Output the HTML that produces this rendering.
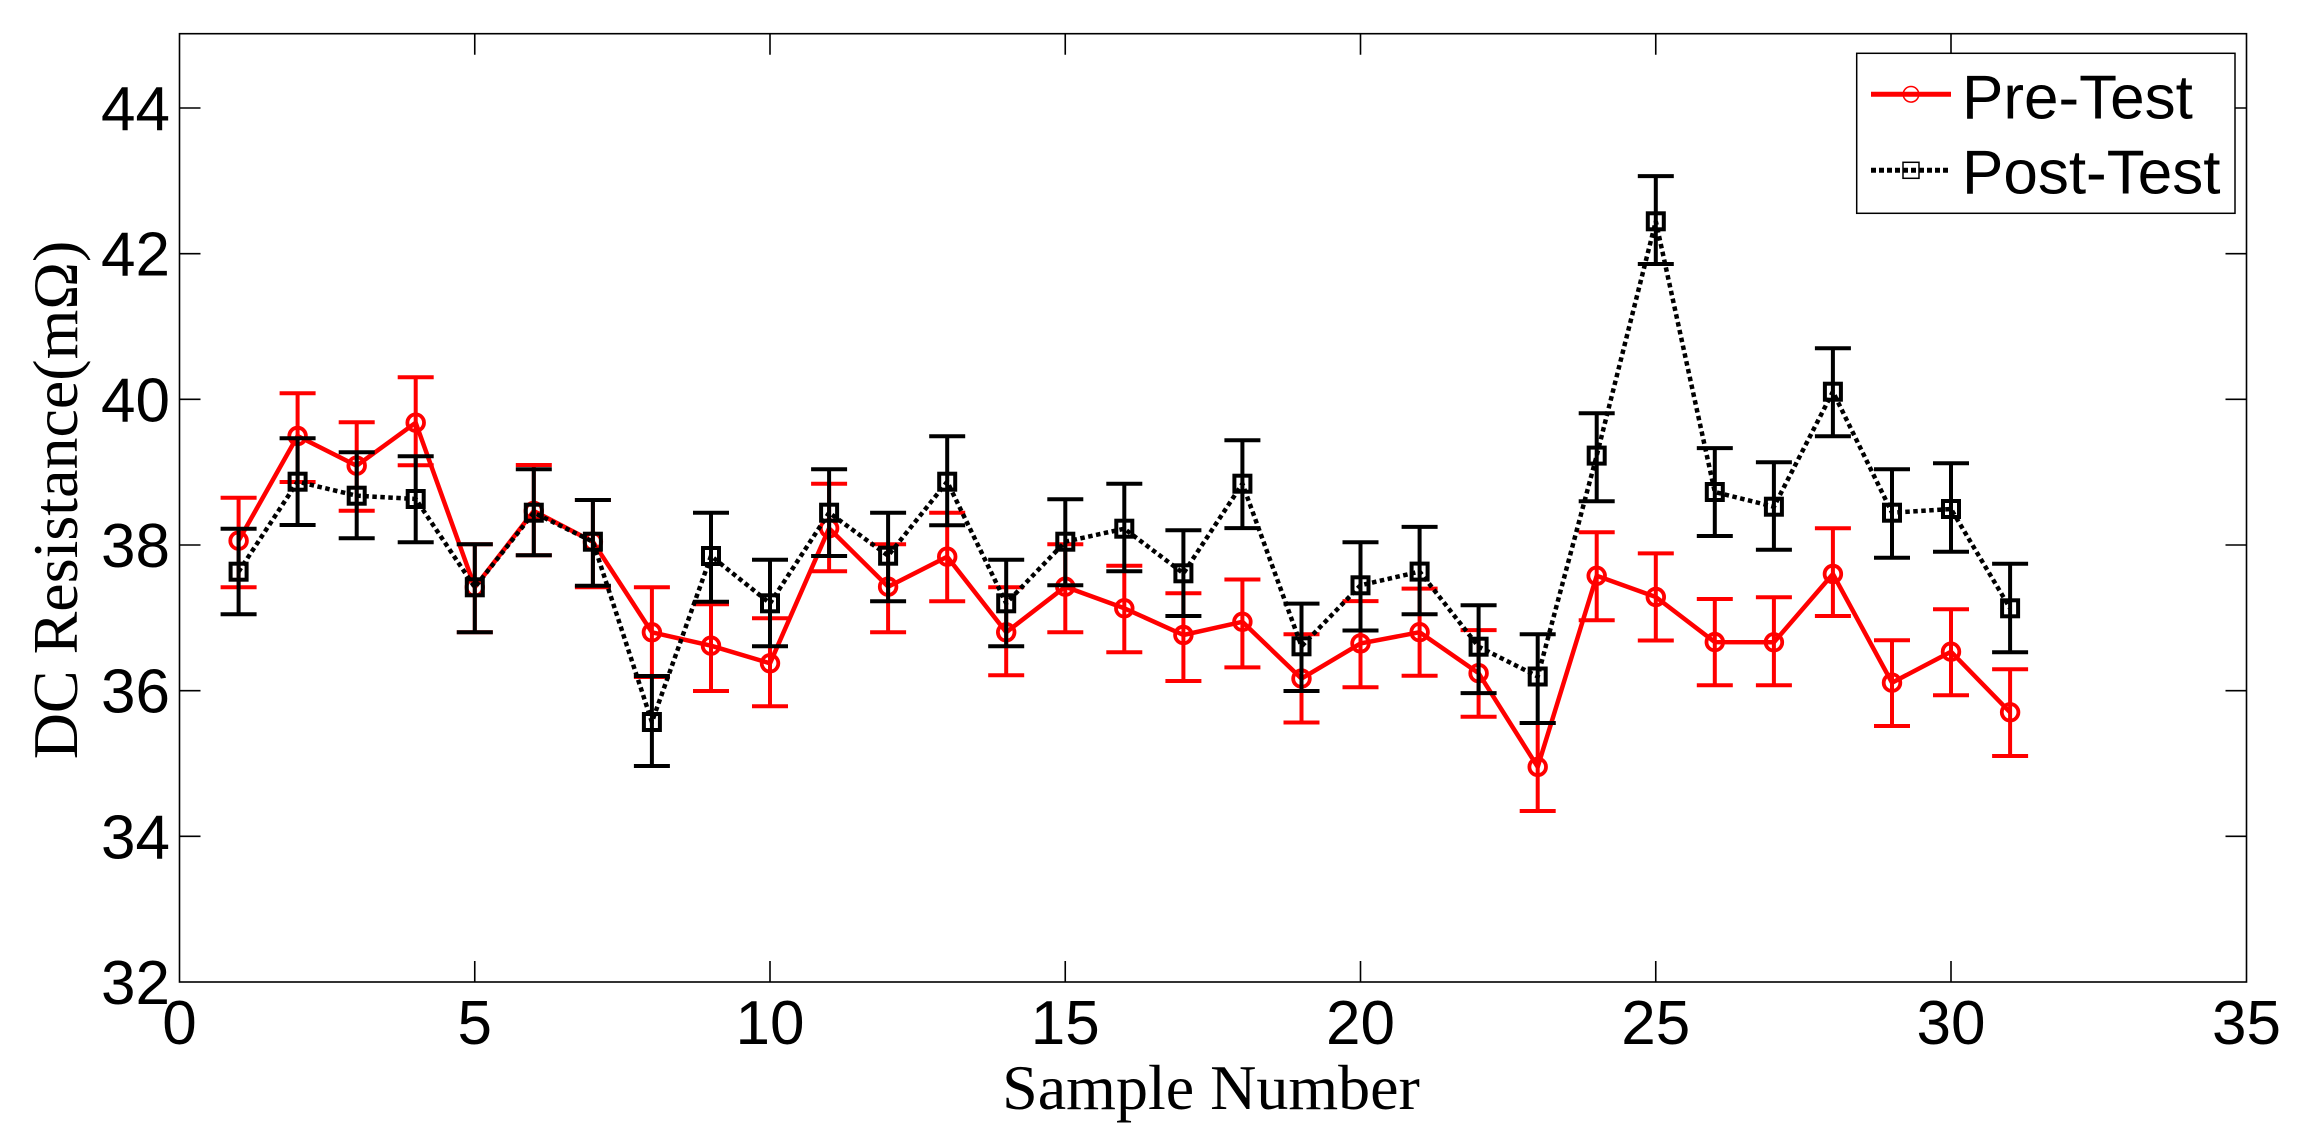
<!DOCTYPE html>
<html>
<head>
<meta charset="utf-8">
<style>
html,body{margin:0;padding:0;background:#fff;}
svg{display:block;}
text{font-family:"Liberation Sans",Arial,sans-serif;}
.serif{font-family:"Liberation Serif","Times New Roman",serif;}
</style>
</head>
<body>
<svg width="2302" height="1147" viewBox="0 0 2302 1147" xmlns="http://www.w3.org/2000/svg">
<rect x="0" y="0" width="2302" height="1147" fill="#fff"/>

<!-- Pre-Test error bars -->
<path fill="none" stroke="#ff0000" stroke-width="4" d="M238.6 497.7V587.3M220.6 497.7h36M220.6 587.3h36
M297.6 393.3V482M279.6 393.3h36M279.6 482h36
M356.7 422.3V510.7M338.7 422.3h36M338.7 510.7h36
M415.7 377.3V465.3M397.7 377.3h36M397.7 465.3h36
M474.8 544.3V632.3M456.8 544.3h36M456.8 632.3h36
M533.8 465V555.3M515.8 465h36M515.8 555.3h36
M592.9 500V587.3M574.9 500h36M574.9 587.3h36
M651.9 587.3V677M633.9 587.3h36M633.9 677h36
M711 604.3V691M693 604.3h36M693 691h36
M770 618.3V706.3M752 618.3h36M752 706.3h36
M829.1 483.7V571.3M811.1 483.7h36M811.1 571.3h36
M888.1 544.3V632.3M870.1 544.3h36M870.1 632.3h36
M947.2 512.7V601.3M929.2 512.7h36M929.2 601.3h36
M1006.2 587.3V675.3M988.2 587.3h36M988.2 675.3h36
M1065.3 544.3V632.3M1047.3 544.3h36M1047.3 632.3h36
M1124.3 565.7V652.3M1106.3 565.7h36M1106.3 652.3h36
M1183.4 593.3V681M1165.4 593.3h36M1165.4 681h36
M1242.4 579.5V667.4M1224.4 579.5h36M1224.4 667.4h36
M1301.5 634.2V722.5M1283.5 634.2h36M1283.5 722.5h36
M1360.5 601.1V687.3M1342.5 601.1h36M1342.5 687.3h36
M1419.6 588.6V675.7M1401.6 588.6h36M1401.6 675.7h36
M1478.6 630.1V716.7M1460.6 630.1h36M1460.6 716.7h36
M1537.7 723V811M1519.7 723h36M1519.7 811h36
M1596.7 532.3V620.2M1578.7 532.3h36M1578.7 620.2h36
M1655.8 553.4V640.5M1637.8 553.4h36M1637.8 640.5h36
M1714.8 599V685.2M1696.8 599h36M1696.8 685.2h36
M1773.9 597.3V685.3M1755.9 597.3h36M1755.9 685.3h36
M1832.9 528.3V616M1814.9 528.3h36M1814.9 616h36
M1892 640.3V726M1874 640.3h36M1874 726h36
M1951 609.3V695.3M1933 609.3h36M1933 695.3h36
M2010.1 669.3V756M1992.1 669.3h36M1992.1 756h36"/>

<!-- Pre-Test line -->
<polyline fill="none" stroke="#ff0000" stroke-width="4.5" stroke-linejoin="round" points="238.6,540.7 297.6,436 356.7,465.7 415.7,422.7 474.8,587.3 533.8,511 592.9,541.7 651.9,632.3 711,645.7 770,663.3 829.1,528.3 888.1,586.7 947.2,556.7 1006.2,632.3 1065.3,586.7 1124.3,608.3 1183.4,635 1242.4,621.8 1301.5,678.6 1360.5,643.4 1419.6,632.2 1478.6,673.2 1537.7,766.9 1596.7,575.8 1655.8,597 1714.8,642.1 1773.9,642.3 1832.9,574 1892,682.7 1951,651.7 2010.1,712.3"/>

<!-- Pre-Test markers -->
<g fill="none" stroke="#ff0000" stroke-width="3.8">
<circle cx="238.6" cy="540.7" r="8.3"/><circle cx="297.6" cy="436" r="8.3"/><circle cx="356.7" cy="465.7" r="8.3"/><circle cx="415.7" cy="422.7" r="8.3"/><circle cx="474.8" cy="587.3" r="8.3"/><circle cx="533.8" cy="511" r="8.3"/><circle cx="592.9" cy="541.7" r="8.3"/><circle cx="651.9" cy="632.3" r="8.3"/><circle cx="711" cy="645.7" r="8.3"/><circle cx="770" cy="663.3" r="8.3"/><circle cx="829.1" cy="528.3" r="8.3"/><circle cx="888.1" cy="586.7" r="8.3"/><circle cx="947.2" cy="556.7" r="8.3"/><circle cx="1006.2" cy="632.3" r="8.3"/><circle cx="1065.3" cy="586.7" r="8.3"/><circle cx="1124.3" cy="608.3" r="8.3"/><circle cx="1183.4" cy="635" r="8.3"/><circle cx="1242.4" cy="621.8" r="8.3"/><circle cx="1301.5" cy="678.6" r="8.3"/><circle cx="1360.5" cy="643.4" r="8.3"/><circle cx="1419.6" cy="632.2" r="8.3"/><circle cx="1478.6" cy="673.2" r="8.3"/><circle cx="1537.7" cy="766.9" r="8.3"/><circle cx="1596.7" cy="575.8" r="8.3"/><circle cx="1655.8" cy="597" r="8.3"/><circle cx="1714.8" cy="642.1" r="8.3"/><circle cx="1773.9" cy="642.3" r="8.3"/><circle cx="1832.9" cy="574" r="8.3"/><circle cx="1892" cy="682.7" r="8.3"/><circle cx="1951" cy="651.7" r="8.3"/><circle cx="2010.1" cy="712.3" r="8.3"/>
</g>

<!-- Post-Test error bars -->
<path fill="none" stroke="#000" stroke-width="4" d="M238.6 528.7V614.3M220.6 528.7h36M220.6 614.3h36
M297.6 438.3V525M279.6 438.3h36M279.6 525h36
M356.7 452.3V538.3M338.7 452.3h36M338.7 538.3h36
M415.7 456.3V542.3M397.7 456.3h36M397.7 542.3h36
M474.8 544.3V632.3M456.8 544.3h36M456.8 632.3h36
M533.8 469.3V555.3M515.8 469.3h36M515.8 555.3h36
M592.9 500V585.7M574.9 500h36M574.9 585.7h36
M651.9 676V766M633.9 676h36M633.9 766h36
M711 512.7V601.7M693 512.7h36M693 601.7h36
M770 559.7V646.3M752 559.7h36M752 646.3h36
M829.1 469.3V556M811.1 469.3h36M811.1 556h36
M888.1 512.7V601.3M870.1 512.7h36M870.1 601.3h36
M947.2 436.3V525.3M929.2 436.3h36M929.2 525.3h36
M1006.2 559.7V646.3M988.2 559.7h36M988.2 646.3h36
M1065.3 499.3V585.3M1047.3 499.3h36M1047.3 585.3h36
M1124.3 483.7V571.3M1106.3 483.7h36M1106.3 571.3h36
M1183.4 530.3V616M1165.4 530.3h36M1165.4 616h36
M1242.4 440.2V528.1M1224.4 440.2h36M1224.4 528.1h36
M1301.5 603.6V691M1283.5 603.6h36M1283.5 691h36
M1360.5 542.2V630.5M1342.5 542.2h36M1342.5 630.5h36
M1419.6 526.9V614.3M1401.6 526.9h36M1401.6 614.3h36
M1478.6 605.2V693.1M1460.6 605.2h36M1460.6 693.1h36
M1537.7 634.2V723M1519.7 634.2h36M1519.7 723h36
M1596.7 413.3V501.2M1578.7 413.3h36M1578.7 501.2h36
M1655.8 176.1V264M1637.8 176.1h36M1637.8 264h36
M1714.8 448.1V536M1696.8 448.1h36M1696.8 536h36
M1773.9 462.3V549.7M1755.9 462.3h36M1755.9 549.7h36
M1832.9 348.3V436.3M1814.9 348.3h36M1814.9 436.3h36
M1892 469.3V557.7M1874 469.3h36M1874 557.7h36
M1951 463.3V551.7M1933 463.3h36M1933 551.7h36
M2010.1 563.7V652.3M1992.1 563.7h36M1992.1 652.3h36"/>

<!-- Post-Test dotted line -->
<polyline fill="none" stroke="#000" stroke-width="4.5" stroke-dasharray="4.5 3.5" points="238.6,571.7 297.6,481.7 356.7,495.7 415.7,499 474.8,587.3 533.8,512.7 592.9,541.7 651.9,722 711,556 770,603.3 829.1,512.7 888.1,555.7 947.2,481.7 1006.2,603.3 1065.3,541.7 1124.3,528.7 1183.4,573.3 1242.4,483.7 1301.5,646.3 1360.5,585.3 1419.6,571.6 1478.6,646.7 1537.7,676.5 1596.7,455.6 1655.8,221.3 1714.8,492 1773.9,506.7 1832.9,391.7 1892,512.7 1951,509 2010.1,608.3"/>

<!-- Post-Test markers -->
<g fill="none" stroke="#000" stroke-width="4">
<rect x="230.6" y="563.7" width="16" height="16"/><rect x="289.6" y="473.7" width="16" height="16"/><rect x="348.7" y="487.7" width="16" height="16"/><rect x="407.7" y="491" width="16" height="16"/><rect x="466.8" y="579.3" width="16" height="16"/><rect x="525.8" y="504.7" width="16" height="16"/><rect x="584.9" y="533.7" width="16" height="16"/><rect x="643.9" y="714" width="16" height="16"/><rect x="703" y="548" width="16" height="16"/><rect x="762" y="595.3" width="16" height="16"/><rect x="821.1" y="504.7" width="16" height="16"/><rect x="880.1" y="547.7" width="16" height="16"/><rect x="939.2" y="473.7" width="16" height="16"/><rect x="998.2" y="595.3" width="16" height="16"/><rect x="1057.3" y="533.7" width="16" height="16"/><rect x="1116.3" y="520.7" width="16" height="16"/><rect x="1175.4" y="565.3" width="16" height="16"/><rect x="1234.4" y="475.7" width="16" height="16"/><rect x="1293.5" y="638.3" width="16" height="16"/><rect x="1352.5" y="577.3" width="16" height="16"/><rect x="1411.6" y="563.6" width="16" height="16"/><rect x="1470.6" y="638.7" width="16" height="16"/><rect x="1529.7" y="668.5" width="16" height="16"/><rect x="1588.7" y="447.6" width="16" height="16"/><rect x="1647.8" y="213.3" width="16" height="16"/><rect x="1706.8" y="484" width="16" height="16"/><rect x="1765.9" y="498.7" width="16" height="16"/><rect x="1824.9" y="383.7" width="16" height="16"/><rect x="1884" y="504.7" width="16" height="16"/><rect x="1943" y="501" width="16" height="16"/><rect x="2002.1" y="600.3" width="16" height="16"/>
</g>

<!-- Axes box -->
<rect x="179.5" y="33.7" width="2067" height="948.3" fill="none" stroke="#000" stroke-width="1.6"/>

<!-- Ticks -->
<path fill="none" stroke="#000" stroke-width="1.6" d="
M474.75 982V961M770 982V961M1065.25 982V961M1360.5 982V961M1655.75 982V961M1951 982V961
M474.75 33.7V54.7M770 33.7V54.7M1065.25 33.7V54.7M1360.5 33.7V54.7M1655.75 33.7V54.7M1951 33.7V54.7
M179.5 836.3H200.5M179.5 690.7H200.5M179.5 545H200.5M179.5 399.3H200.5M179.5 253.7H200.5M179.5 108H200.5
M2246.5 836.3H2225.5M2246.5 690.7H2225.5M2246.5 545H2225.5M2246.5 399.3H2225.5M2246.5 253.7H2225.5M2246.5 108H2225.5"/>

<!-- Y tick labels -->
<g font-size="62" text-anchor="end" fill="#000">
<text x="170" y="1004">32</text>
<text x="170" y="858.3">34</text>
<text x="170" y="712.7">36</text>
<text x="170" y="567">38</text>
<text x="170" y="421.3">40</text>
<text x="170" y="275.7">42</text>
<text x="170" y="130">44</text>
</g>

<!-- X tick labels -->
<g font-size="62" text-anchor="middle" fill="#000">
<text x="179.5" y="1044">0</text>
<text x="474.75" y="1044">5</text>
<text x="770" y="1044">10</text>
<text x="1065.25" y="1044">15</text>
<text x="1360.5" y="1044">20</text>
<text x="1655.75" y="1044">25</text>
<text x="1951" y="1044">30</text>
<text x="2246.5" y="1044">35</text>
</g>

<!-- Axis labels -->
<text class="serif" x="1211" y="1109" font-size="64" text-anchor="middle" fill="#000">Sample Number</text>
<text class="serif" x="0" y="0" font-size="64" text-anchor="middle" fill="#000" transform="translate(77,500) rotate(-90)">DC Resistance(mΩ)</text>

<!-- Legend -->
<rect x="1856.7" y="53.3" width="378.3" height="160" fill="#fff" stroke="#000" stroke-width="1.5"/>
<line x1="1871" y1="94.3" x2="1951" y2="94.3" stroke="#ff0000" stroke-width="5"/>
<circle cx="1911" cy="94.3" r="7.8" fill="none" stroke="#ff0000" stroke-width="1.5"/>
<line x1="1871" y1="170.3" x2="1951" y2="170.3" stroke="#000" stroke-width="5" stroke-dasharray="5 3"/>
<rect x="1903" y="162.3" width="16" height="16" fill="none" stroke="#000" stroke-width="1.5"/>
<text x="1962" y="118.3" font-size="62" fill="#000">Pre-Test</text>
<text x="1962" y="193.3" font-size="62" fill="#000">Post-Test</text>
</svg>
</body>
</html>
